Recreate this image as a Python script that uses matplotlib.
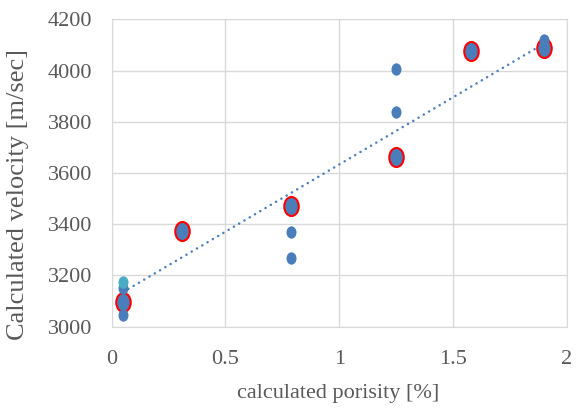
import matplotlib
matplotlib.use("Agg")
import matplotlib.pyplot as plt
import numpy as np
from matplotlib.path import Path

# measured points (blue dots)
dot_x = [0.05, 0.05, 0.05, 0.79, 0.79, 0.79, 0.31, 1.25, 1.25, 1.25, 1.58, 1.90, 1.90]
dot_y = [3150, 3100, 3045, 3470, 3370, 3270, 3372, 4005, 3840, 3663, 4077, 4120, 4090]

# single teal point
teal_x = [0.05]
teal_y = [3175]

# highlighted points (red outline)
hl_x = [0.05, 0.31, 0.79, 1.25, 1.58, 1.90]
hl_y = [3095, 3372, 3472, 3663, 4077, 4088]

# linear trend line end points
trend_x = [0.05, 1.90]
trend_y = [3135, 4105]

plt.rcParams['font.family'] = ['Liberation Serif', 'DejaVu Serif']
txt = '#595959'
grid = '#d9d9d9'


def ellipse(w):
    c = Path.unit_circle()
    return Path(c.vertices * np.array([w, 1.0]), c.codes)


fig = plt.figure(figsize=(5.88, 4.08), dpi=100)
ax = fig.add_axes([0.19, 0.1993, 0.7738, 0.7534])

ax.plot(trend_x, trend_y, color='#4a7ebb', lw=1.8, ls=(0, (0.05, 2.4)),
        dash_capstyle='round', zorder=2)
ax.plot(hl_x, hl_y, ls='none', marker=ellipse(0.76), ms=13.7,
        mfc='#4a7ebb', mec='#ff0000', mew=1.5, zorder=3)
ax.plot(dot_x, dot_y, ls='none', marker=ellipse(0.81), ms=8.9,
        mfc='#4a7ebb', mec='#4a7ebb', mew=0, zorder=4)
ax.plot(teal_x, teal_y, ls='none', marker=ellipse(0.81), ms=8.9,
        mfc='#4bacc6', mec='#4bacc6', mew=0, zorder=5)

ax.set_xlim(0, 2)
ax.set_ylim(3000, 4200)
ax.set_xticks([0, 0.5, 1, 1.5, 2])
ax.set_xticklabels(['0', '0.5', '1', '1.5', '2'])
ax.set_yticks(range(3000, 4201, 200))
ax.grid(True, color=grid, lw=1)
ax.set_axisbelow(True)
for s in ax.spines.values():
    s.set_color(grid)
ax.tick_params(length=0, labelsize=16, colors=txt)
ax.tick_params(axis='x', pad=17)
ax.tick_params(axis='y', pad=14)

ax.set_xlabel('calculated porisity [%]', fontsize=16, color=txt, va='center')
ax.xaxis.set_label_coords(0.497, -0.216)
ax.set_ylabel('Calculated velocity [m/sec]', fontsize=19, color=txt, va='center')
ax.yaxis.set_label_coords(-0.205, 0.43)

fig.savefig('out.png', dpi=100)
